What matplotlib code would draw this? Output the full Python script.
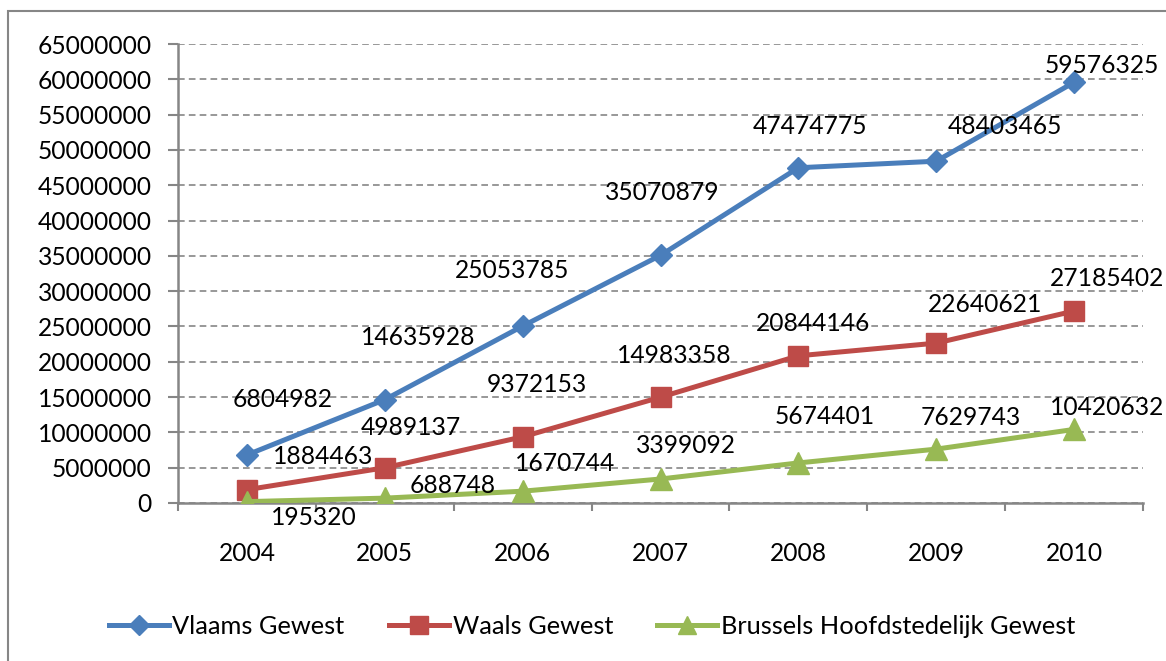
import matplotlib
matplotlib.use("Agg")
import matplotlib.pyplot as plt
from matplotlib.patches import Rectangle
from matplotlib.lines import Line2D

years = ["2004", "2005", "2006", "2007", "2008", "2009", "2010"]
vlaams = [6804982, 14635928, 25053785, 35070879, 47474775, 48403465, 59576325]
waals = [1884463, 4989137, 9372153, 14983358, 20844146, 22640621, 27185402]
brussels = [195320, 688748, 1670744, 3399092, 5674401, 7629743, 10420632]
series_names = ["Vlaams Gewest", "Waals Gewest", "Brussels Hoofdstedelijk Gewest"]

# label offsets in pixels (dx, dy) relative to each point
off_vlaams = [(36, 55), (33, 62), (-11, 56), (2, 63), (12, 41), (69, 35), (28, 17)]
off_waals = [(76, 33), (26, 40), (14, 52), (14, 42), (15, 32), (49, 39), (33, 33)]
off_brussels = [(67, -16), (68, 13), (42, 28), (25, 33), (26, 46), (35, 32), (33, 22)]

FONT = "Lato"
plt.rcParams["font.family"] = [FONT, "DejaVu Sans"]
FS = 17.7

W, H = 1166, 661
fig = plt.figure(figsize=(W / 100, H / 100), dpi=100)
ax = fig.add_axes([178 / W, 1 - 503 / H, (1143 - 178) / W, (503 - 44) / H])

x = list(range(len(years)))
styles = [
    (vlaams, "#4A7EBB", "D", 11.5, off_vlaams),
    (waals, "#BE4B48", "s", 14.5, off_waals),
    (brussels, "#98B954", "^", 15.5, off_brussels),
]
handles = []
for (vals, col, mk, ms, offs), name in zip(styles, series_names):
    ax.plot(x, vals, color=col, lw=3.6, marker=mk, ms=ms, mec=col, mfc=col,
            zorder=3, solid_capstyle="round")
    for xi, v, (dx, dy) in zip(x, vals, offs):
        ax.annotate(str(v), (xi, v), xytext=(dx, dy), textcoords="offset pixels",
                    ha="center", va="center", fontsize=FS, color="black", zorder=4)
    handles.append(Line2D([0], [0], color=col, lw=3.6, marker=mk, ms=ms * 0.85,
                          mec=col, mfc=col))

ax.set_xlim(-0.5, len(years) - 0.5)
ax.set_ylim(0, 65000000)
ax.set_yticks(range(0, 65000001, 5000000))
ax.set_yticklabels([str(v) for v in range(0, 65000001, 5000000)], fontsize=FS)
ax.set_xticks(x)
ax.set_xticklabels(years, fontsize=FS)
ax.set_xticks([i - 0.5 for i in range(len(years) + 1)], minor=True)
ax.tick_params(axis="x", which="major", length=0, pad=28)
ax.tick_params(axis="x", which="minor", length=6, color="#868686", width=1.5)
ax.tick_params(axis="y", length=7, color="#868686", width=1.5, pad=12)
ax.grid(axis="y", color="#868686", linestyle=(0, (4, 2.5)), lw=1.2, zorder=0)
ax.set_axisbelow(True)
for s in ["top", "right"]:
    ax.spines[s].set_visible(False)
for s in ["left", "bottom"]:
    ax.spines[s].set_color("#868686")
    ax.spines[s].set_linewidth(1.8)

fig.legend(handles, series_names, loc="center", bbox_to_anchor=(592 / W, 1 - 626 / H),
           ncol=3, frameon=False, fontsize=18.3, handlelength=2.35, handletextpad=0.15,
           columnspacing=1.75)

fig.patches.append(Rectangle((8 / W, -0.05), 1.2, 1 - 11 / H + 0.05,
                             transform=fig.transFigure, fill=False,
                             edgecolor="#868686", lw=1.5))

fig.savefig("out.png", dpi=100)
